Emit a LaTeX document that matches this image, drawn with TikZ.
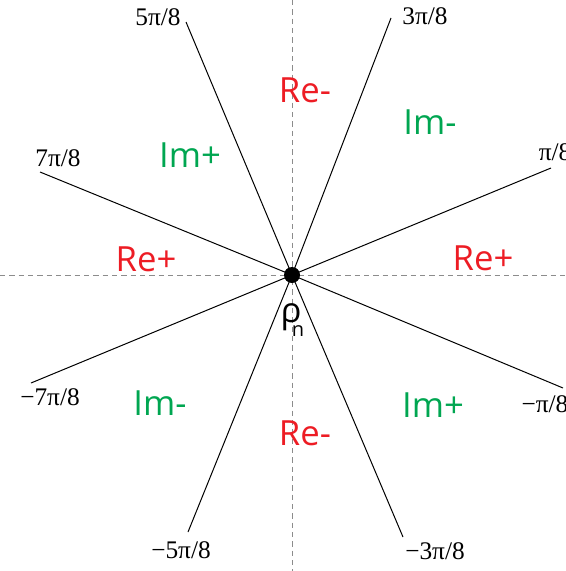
\documentclass[tikz,border=0pt]{standalone}
\usepackage{fontspec}
\setmainfont{Liberation Serif}
\newfontfamily\lblfont{Open Sans}
\definecolor{rered}{RGB}{237,28,36}
\definecolor{imgreen}{RGB}{0,166,81}
\begin{document}
\begin{tikzpicture}[x=0.75pt,y=-0.75pt,
  ray/.style={draw=black,line width=0.75pt},
  axis/.style={draw=black!45,dashed,dash pattern=on 4pt off 3pt,line width=0.6pt},
  anglbl/.style={font=\fontsize{19}{19}\selectfont,inner sep=0pt},
  relbl/.style={font=\lblfont\fontsize{26}{26}\selectfont,text=rered,inner sep=0pt},
  imlbl/.style={font=\lblfont\fontsize{26}{26}\selectfont,text=imgreen,inner sep=0pt}]
\useasboundingbox (0,0) rectangle (566,571);
% axes
\coordinate (axL) at (0,275);
\coordinate (axR) at (566,275);
\coordinate (axT) at (292,0);
\coordinate (axB) at (292,571);
\draw[axis] (axL) -- (axR);
\draw[axis] (axT) -- (axB);
% centre
\coordinate (O) at (292,275);
% ray ends
\coordinate (A1) at (551,168);
\coordinate (A3) at (391,18);
\coordinate (A5) at (186,22);
\coordinate (A7) at (40,172);
\coordinate (B1) at (563,388);
\coordinate (B3) at (403,537);
\coordinate (B5) at (188,532);
\coordinate (B7) at (31,383);
\foreach \p in {A1,A3,A5,A7,B1,B3,B5,B7} \draw[ray] (O) -- (\p);
\node[circle,fill=black,minimum size=12pt,inner sep=0pt] (dot) at (O) {};
% angle labels
\node[anglbl] (l1) at (555,152) {π/8};
\node[anglbl] (l3) at (425,16) {3π/8};
\node[anglbl] (l5) at (158,17) {5π/8};
\node[anglbl] (l7) at (58,158) {7π/8};
\node[anglbl] (m1) at (545,404) {−π/8};
\node[anglbl] (m3) at (435,551) {−3π/8};
\node[anglbl] (m5) at (181,550) {−5π/8};
\node[anglbl] (m7) at (50,397) {−7π/8};
% region labels
\node[relbl] (reT) at (305,90) {Re-};
\node[imlbl] (imTR) at (430,122) {Im-};
\node[imlbl] (imTL) at (190,155) {Im+};
\node[relbl] (reL) at (146,259) {Re+};
\node[relbl] (reR) at (483,258) {Re+};
\node[imlbl] (imBL) at (160,403) {Im-};
\node[relbl] (reB) at (305,433) {Re-};
\node[imlbl] (imBR) at (433,405) {Im+};
% rho_n
\node[font=\lblfont\fontsize{26}{26}\selectfont,inner sep=0pt] (rho) at (291,317) {ρ};
\node[font=\lblfont\fontsize{15}{15}\selectfont,inner sep=0pt] (n) at (298,331) {n};
\end{tikzpicture}
\end{document}
